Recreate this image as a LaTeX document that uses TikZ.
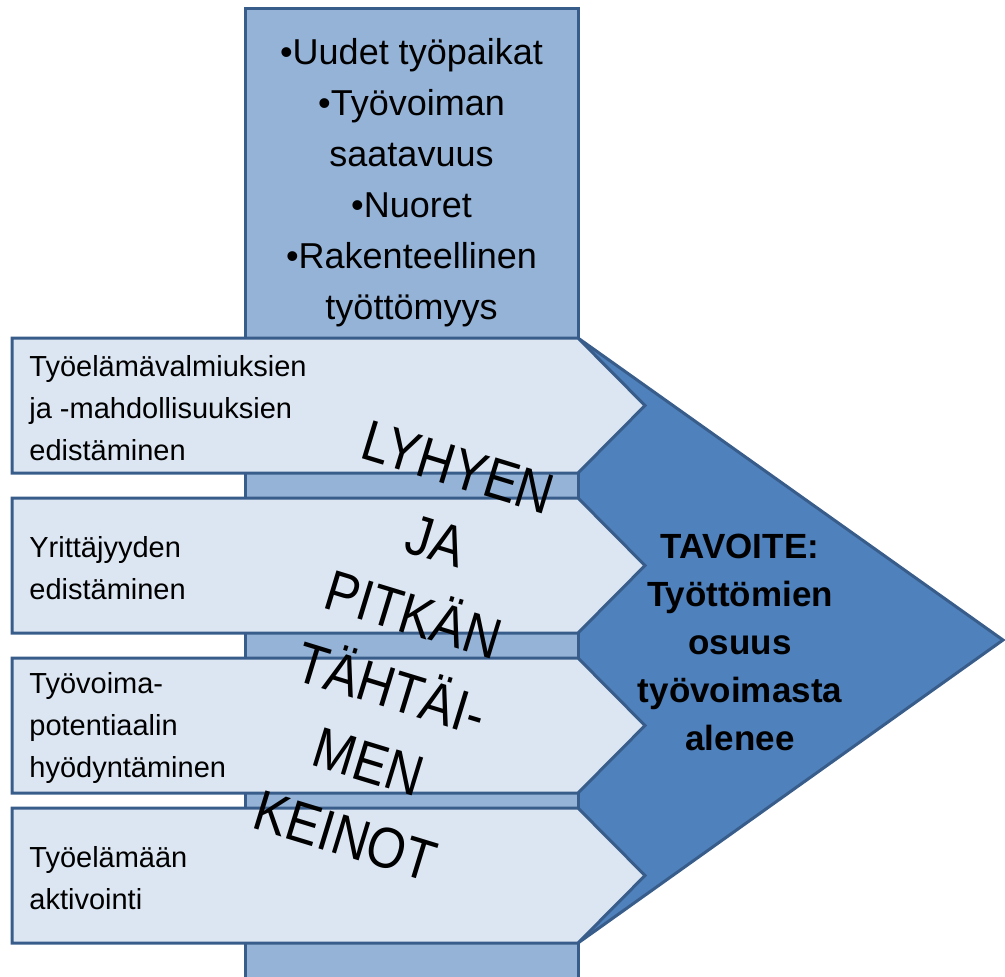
\documentclass[tikz,border=0pt]{standalone}
\usepackage{fontspec}
\setmainfont{Liberation Sans}
\usepackage{tikz}
\definecolor{colblue}{RGB}{149,179,215}
\definecolor{chevblue}{RGB}{220,230,242}
\definecolor{goalblue}{RGB}{79,129,189}
\definecolor{edgeblue}{RGB}{56,93,138}
\tikzset{
 column/.style = {
    draw=edgeblue, fill=colblue, line width=1.5pt},
 chevron/.style = {
    draw=edgeblue, fill=chevblue, line width=1.5pt},
 goal/.style = {
    draw=edgeblue, fill=goalblue, line width=1.5pt},
 items/.style = {
    inner sep=0pt, align=center,
    font=\fontsize{18}{25.5}\selectfont},
 keino/.style = {
    anchor=west, inner sep=0pt, align=left,
    font=\fontsize{14.5}{21}\selectfont},
 goal text/.style = {
    inner sep=0pt, align=center,
    font=\fontsize{17.5}{24}\selectfont\bfseries},
 slogan/.style = {
    inner sep=0pt, align=center, rotate=-17, yscale=1.15,
    font=\fontsize{25}{33.5}\selectfont},
}
\begin{document}
\begin{tikzpicture}[x=0.5pt, y=-0.5pt]
\useasboundingbox (0,0) rectangle (1005,976);

% Goal arrow behind everything
\draw[goal] (420,338) -- (578,338) -- (1003,640) -- (578,943) -- (420,943) -- cycle;

% Column
\draw[column] (245,8) rectangle (578,995);
\node[items] (focus) at (411.5,183) {•Uudet työpaikat\\•Työvoiman\\saatavuus\\•Nuoret\\•Rakenteellinen\\työttömyys};

% Place chevrons and their texts
\foreach \top/\name/\txt in {
    338/keino1/{Työelämävalmiuksien\\ja -mahdollisuuksien\\edistäminen},
    498/keino2/{Yrittäjyyden\\edistäminen},
    658/keino3/{Työvoima-\\potentiaalin\\hyödyntäminen},
    808/keino4/{Työelämään\\aktivointi}} {
  \draw[chevron] (12,\top) -- (578,\top) -- ++(67,67.5) -- ++(-67,67.5) -- (12,\top+135) -- cycle;
  \node[keino] (\name) at (29,\top+70) {\txt};
}

% Texts on top
\node[goal text] (goal) at (740,642) {TAVOITE:\\Työttömien\\osuus\\työvoimasta\\alenee};
\node[slogan, transform shape] (keinot) at (402,652) {LYHYEN\\JA\\PITKÄN\\TÄHTÄI-\\MEN\\KEINOT};
\end{tikzpicture}
\end{document}
